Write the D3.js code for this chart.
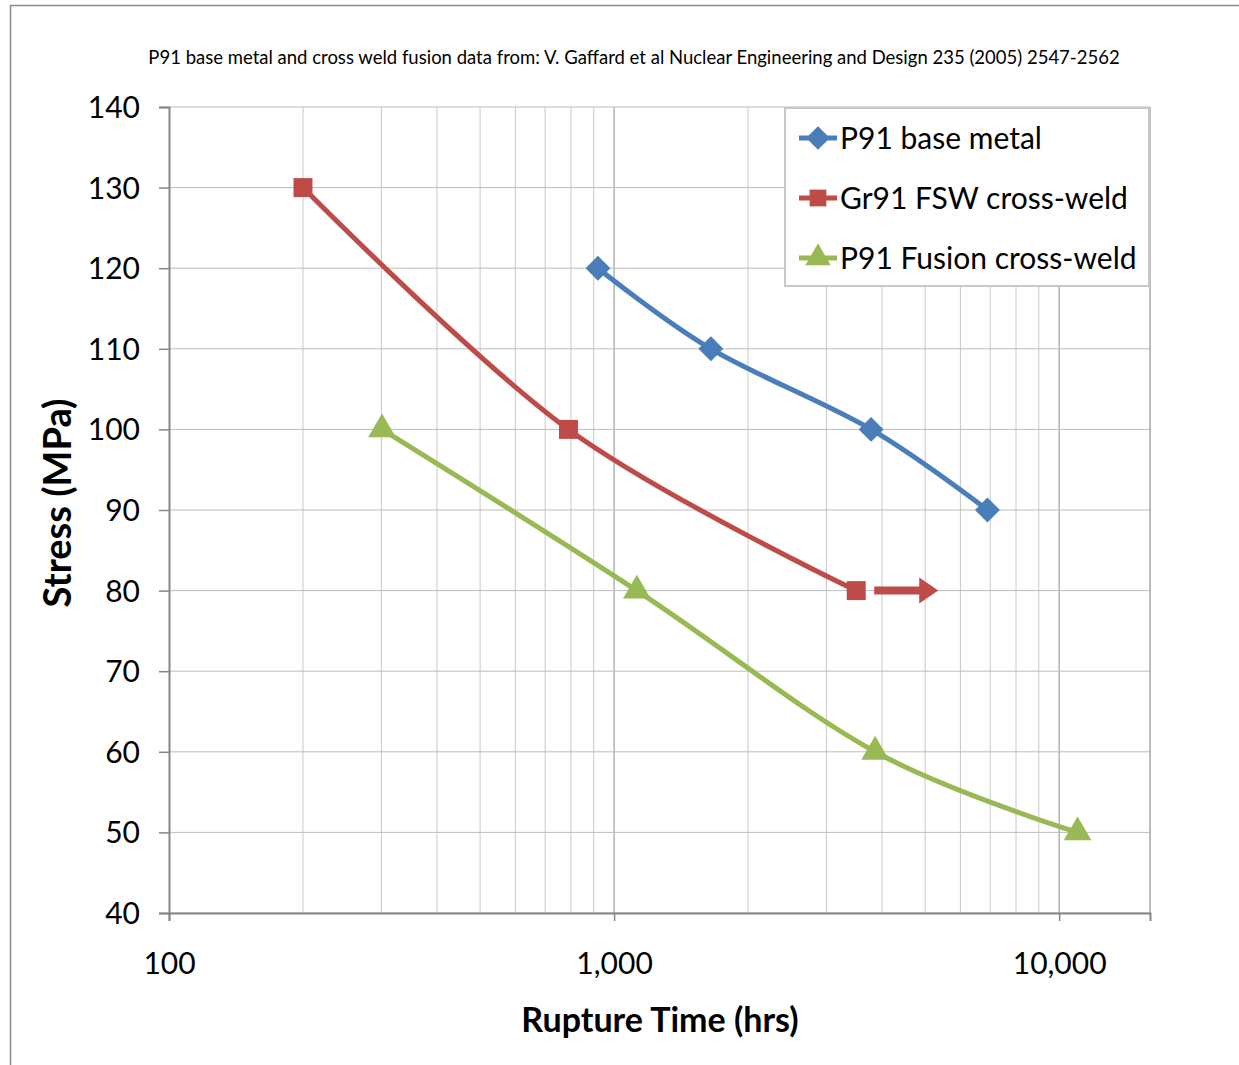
<!DOCTYPE html>
<html>
<head>
    <title>P91 rupture data</title>
    <script src="https://d3js.org/d3.v7.min.js"></script>
    <style>
        body { margin: 0; background: #fff; }
        svg { font-family: Lato, "Open Sans", sans-serif; }
    </style>
</head>
<body>
    <div id="chart"></div>
    <script>
        // data
        var baseTime = [920, 1650, 3780, 6900];
        var baseStress = [120, 110, 100, 90];
        var fswTime = [200, 790, 3500];
        var fswStress = [130, 100, 80];
        var fusionTime = [301, 1125, 3860, 11000];
        var fusionStress = [100, 80, 60, 50];
        var seriesNames = ["P91 base metal", "Gr91 FSW cross-weld", "P91 Fusion cross-weld"];
        var xTicks = [100, 1000, 10000];
        var yTicks = [40, 50, 60, 70, 80, 90, 100, 110, 120, 130, 140];

        var W = 1239, H = 1065;
        var margin = {top: 107, right: 89, bottom: 152, left: 169},
            width = W - margin.left - margin.right,
            height = H - margin.top - margin.bottom;

        var root = d3.select("#chart").append("svg")
            .attr("width", W)
            .attr("height", H);

        // outer chart frame
        root.append("path")
            .attr("d", "M10.5," + H + "V5.5H" + W)
            .attr("fill", "none")
            .attr("stroke", "#8c8c8c")
            .attr("stroke-width", 1.5);

        root.append("text")
            .attr("x", 634)
            .attr("y", 64)
            .attr("text-anchor", "middle")
            .style("font-size", "18.5px")
            .text("P91 base metal and cross weld fusion data from: V. Gaffard et al Nuclear Engineering and Design 235 (2005) 2547-2562");

        var svg = root.append("g")
            .attr("transform", "translate(" + margin.left + "," + margin.top + ")");

        var x = d3.scaleLog().domain([100, 16000]).range([0, width]);
        var y = d3.scaleLinear().domain([40, 140]).range([height, 0]);

        // minor grid
        var minor = [];
        [100, 1000, 10000].forEach(function(d) {
            for (var k = 2; k <= 9; k++) if (d * k <= 16000) minor.push(d * k);
        });
        svg.selectAll(".minor").data(minor).enter().append("line")
            .attr("x1", function(d) { return x(d); })
            .attr("x2", function(d) { return x(d); })
            .attr("y1", 0).attr("y2", height)
            .attr("stroke", "#c8c8c8").attr("stroke-width", 1);
        svg.selectAll(".major").data([1000, 10000]).enter().append("line")
            .attr("x1", function(d) { return x(d); })
            .attr("x2", function(d) { return x(d); })
            .attr("y1", 0).attr("y2", height)
            .attr("stroke", "#8c8c8c").attr("stroke-width", 1);
        svg.selectAll(".hgrid").data(yTicks).enter().append("line")
            .attr("x1", 0).attr("x2", width)
            .attr("y1", function(d) { return y(d); })
            .attr("y2", function(d) { return y(d); })
            .attr("stroke", "#bdbdbd").attr("stroke-width", 1);
        svg.append("line")
            .attr("x1", width).attr("x2", width).attr("y1", 0).attr("y2", height)
            .attr("stroke", "#a6a6a6").attr("stroke-width", 1.5);

        // axes
        var yAxis = svg.append("g")
            .call(d3.axisLeft(y).tickValues(yTicks).tickSize(10).tickPadding(19));
        var xAxis = svg.append("g")
            .attr("transform", "translate(0," + height + ")")
            .call(d3.axisBottom(x).tickValues(xTicks).tickSize(8).tickPadding(32)
                .tickFormat(d3.format(",")));
        [xAxis, yAxis].forEach(function(a) {
            a.select(".domain").attr("stroke", "#868686").attr("stroke-width", 2);
            a.selectAll(".tick line").attr("stroke", "#868686").attr("stroke-width", 1.5);
            a.selectAll("text").style("font-size", "30px").style("font-family", "Lato, sans-serif").attr("fill", "#000");
        });
        yAxis.selectAll("text").attr("dy", "0.35em");

        root.append("text")
            .attr("x", 660)
            .attr("y", 1032)
            .attr("text-anchor", "middle")
            .style("font-size", "34px")
            .style("font-weight", "bold")
            .text("Rupture Time (hrs)");
        root.append("text")
            .attr("transform", "translate(71,503) rotate(-90)")
            .attr("text-anchor", "middle")
            .style("font-size", "38px")
            .style("font-weight", "bold")
            .text("Stress (MPa)");

        // Excel-style diamond: a square turned 45 degrees
        var diamond = {
            draw: function(ctx, size) {
                var r = Math.sqrt(size / 2);
                ctx.moveTo(0, -r); ctx.lineTo(r, 0); ctx.lineTo(0, r); ctx.lineTo(-r, 0); ctx.closePath();
            }
        };

        var series = [
            {name: seriesNames[0], t: baseTime, s: baseStress, color: "#4a7ebb", sym: diamond, size: 310},
            {name: seriesNames[1], t: fswTime, s: fswStress, color: "#be4b48", sym: d3.symbolSquare, size: 360},
            {name: seriesNames[2], t: fusionTime, s: fusionStress, color: "#98b954", sym: d3.symbolTriangle, size: 330}
        ];

        var line = d3.line()
            .x(function(d) { return x(d[0]); })
            .y(function(d) { return y(d[1]); })
            .curve(d3.curveCardinal.tension(0));

        series.forEach(function(se) {
            var pts = se.t.map(function(t, i) { return [t, se.s[i]]; });
            svg.append("path")
                .datum(pts)
                .attr("d", line)
                .attr("fill", "none")
                .attr("stroke", se.color)
                .attr("stroke-width", 5);
            svg.selectAll(null).data(pts).enter().append("path")
                .attr("transform", function(d) { return "translate(" + x(d[0]) + "," + y(d[1]) + ")"; })
                .attr("d", d3.symbol().type(se.sym).size(se.size))
                .attr("fill", se.color);
        });

        // run-out arrow on last FSW point
        var ax0 = x(fswTime[2]) + 18, ay = y(fswStress[2]);
        var ax1 = x(5350);
        svg.append("path")
            .attr("d", "M" + ax0 + "," + (ay - 4) + "H" + (ax1 - 19) + "V" + (ay - 13) +
                "L" + ax1 + "," + ay + "L" + (ax1 - 19) + "," + (ay + 13) + "V" + (ay + 4) + "H" + ax0 + "Z")
            .attr("fill", "#be4b48");

        // legend
        var lg = root.append("g").attr("transform", "translate(785,108)");
        lg.append("rect")
            .attr("width", 364).attr("height", 178)
            .attr("fill", "#fff")
            .attr("stroke", "#c8c8c8").attr("stroke-width", 2);
        series.forEach(function(se, i) {
            var cy = 30 + i * 60;
            lg.append("line")
                .attr("x1", 14).attr("x2", 52).attr("y1", cy).attr("y2", cy)
                .attr("stroke", se.color).attr("stroke-width", 5);
            lg.append("path")
                .attr("transform", "translate(33," + cy + ")")
                .attr("d", d3.symbol().type(se.sym).size(280))
                .attr("fill", se.color);
            lg.append("text")
                .attr("x", 55).attr("y", cy)
                .attr("dy", "0.36em")
                .style("font-size", "30px")
                .text(se.name);
        });
    </script>
</body>
</html>
